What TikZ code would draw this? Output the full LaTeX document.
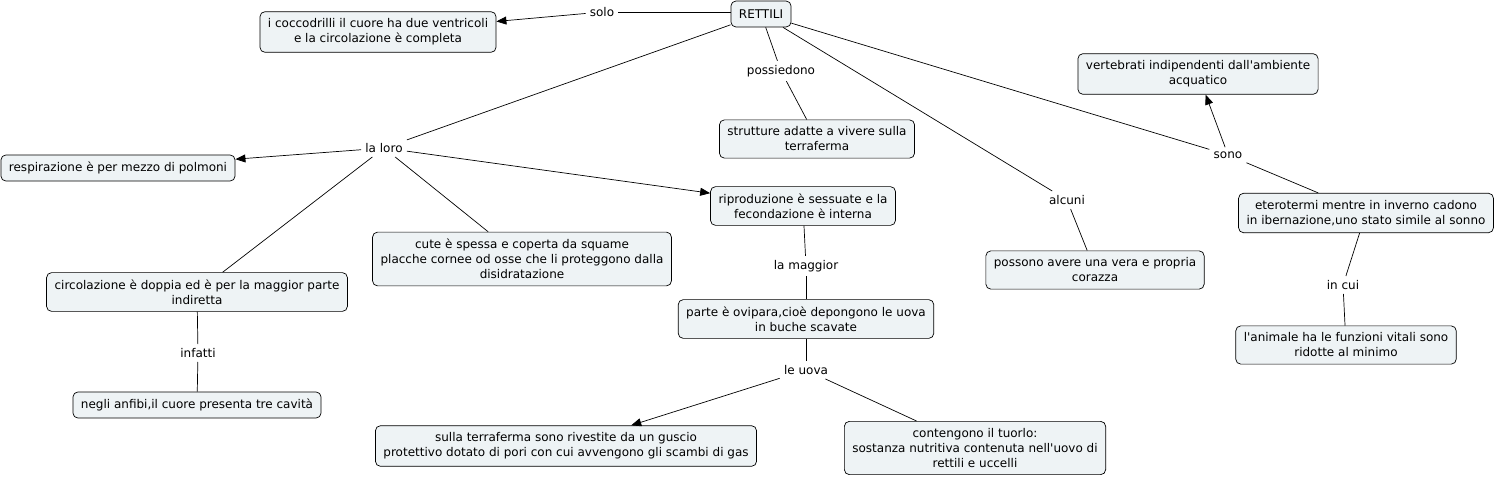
\documentclass[tikz,border=0pt]{standalone}
\usepackage{fontspec}
\newfontfamily\mapfont{DejaVu Sans}
\usetikzlibrary{arrows.meta}
\definecolor{boxfill}{RGB}{238,243,245}
\begin{document}
\begin{tikzpicture}[x=1pt,y=-1pt,line width=0.7pt,
    concept/.style={draw, rounded corners=5pt, fill=boxfill, align=center,
      inner xsep=8pt, inner ysep=7pt, minimum height=26pt,
      font=\mapfont\fontsize{12}{15}\selectfont},
    linkword/.style={inner sep=4pt, font=\mapfont\fontsize{12}{15}\selectfont},
    toconcept/.style={-{Triangle[length=10pt,width=8pt]}}]
  \useasboundingbox (0,0) rectangle (1496,479);
  % concepts
  \node[concept] (rettili) at (761,14) {RETTILI};
  \node[concept] (coccodrilli) at (378,32) {i coccodrilli il cuore ha due ventricoli\\e la circolazione è completa};
  \node[concept] (respirazione) at (118,168) {respirazione è per mezzo di polmoni};
  \node[concept] (strutture) at (817,139) {strutture adatte a vivere sulla\\terraferma};
  \node[concept] (vertebrati) at (1198,74) {vertebrati indipendenti dall'ambiente\\acquatico};
  \node[concept] (eterotermi) at (1366,213) {eterotermi mentre in inverno cadono\\in ibernazione,uno stato simile al sonno};
  \node[concept] (animale) at (1346,345) {l'animale ha le funzioni vitali sono\\ridotte al minimo};
  \node[concept] (possono) at (1095,270) {possono avere una vera e propria\\corazza};
  \node[concept] (riproduzione) at (803,206) {riproduzione è sessuate e la\\fecondazione è interna};
  \node[concept] (ovipara) at (806,319) {parte è ovipara,cioè depongono le uova\\in buche scavate};
  \node[concept] (guscio) at (566,446) {sulla terraferma sono rivestite da un guscio\\protettivo dotato di pori con cui avvengono gli scambi di gas};
  \node[concept] (tuorlo) at (975,448) {contengono il tuorlo:\\sostanza nutritiva contenuta nell'uovo di\\rettili e uccelli};
  \node[concept] (cute) at (522,259) {cute è spessa e coperta da squame\\placche cornee od osse che li proteggono dalla\\disidratazione};
  \node[concept] (circolazione) at (197,292) {circolazione è doppia ed è per la maggior parte\\indiretta};
  \node[concept] (anfibi) at (197,405) {negli anfibi,il cuore presenta tre cavità};
  % linking words
  \node[linkword] (solo) at (602,12) {solo};
  \node[linkword] (laloro) at (384,148) {la loro};
  \node[linkword] (possiedono) at (781,71) {possiedono};
  \node[linkword] (sono) at (1228,155) {sono};
  \node[linkword] (incui) at (1343,285) {in cui};
  \node[linkword] (alcuni) at (1067,200) {alcuni};
  \node[linkword] (lamaggior) at (806,266) {la maggior};
  \node[linkword] (leuova) at (806,370) {le uova};
  \node[linkword] (infatti) at (198,353) {infatti};
  % connectors
  \draw (rettili.west |- solo) -- (solo);
  \draw[toconcept] (solo) -- (coccodrilli);
  \draw (rettili) -- (laloro);
  \draw[toconcept] (laloro) -- (respirazione);
  \draw[toconcept] (laloro) -- (riproduzione);
  \draw (laloro) -- (circolazione);
  \draw (laloro) -- (cute);
  \draw (rettili) -- (possiedono);
  \draw (possiedono) -- (strutture);
  \draw (rettili) -- (alcuni);
  \draw (alcuni) -- (possono);
  \draw (rettili) -- (sono);
  \draw[toconcept] (sono) -- (vertebrati);
  \draw (sono) -- (eterotermi);
  \draw (eterotermi) -- (incui);
  \draw (incui) -- (animale);
  \draw (riproduzione) -- (lamaggior);
  \draw (lamaggior) -- (ovipara);
  \draw (ovipara) -- (leuova);
  \draw[toconcept] (leuova) -- (guscio);
  \draw (leuova) -- (tuorlo);
  \draw (circolazione) -- (infatti);
  \draw (infatti) -- (anfibi);
\end{tikzpicture}
\end{document}
